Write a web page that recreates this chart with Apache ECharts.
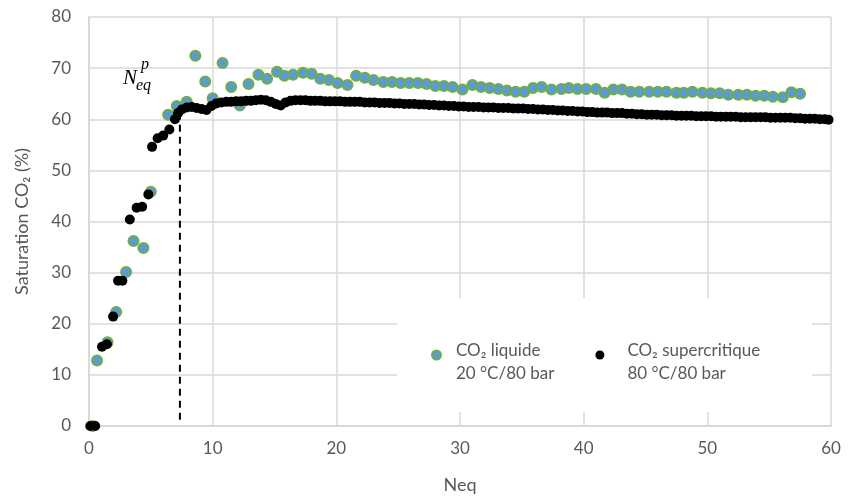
<!DOCTYPE html>
<html>
<head>
<meta charset="utf-8">
<script src="https://cdn.jsdelivr.net/npm/echarts@6/dist/echarts.min.js"></script>
<style>html,body{margin:0;padding:0;background:#fff}#c{width:849px;height:497px}</style>
</head>
<body>
<div id="c"></div>
<script>
// ---- data ----
const xTicks = [0, 10, 20, 30, 40, 50, 60];
const yTicks = [0, 10, 20, 30, 40, 50, 60, 70, 80];

const liquidName = 'CO₂ liquide\n20 °C/80 bar';
const liquidN = [0.3,0.65,1.5,2.2,3.0,3.6,4.4,5.0,6.4,7.1,7.9,8.6,9.4,10.0,10.8,11.5,12.2,12.9,13.7,14.4,15.2,15.8,16.5,17.3,18.0,18.7,19.4,20.1,20.9,21.6,22.3,23.0,23.8,24.5,25.2,25.9,26.6,27.3,28.0,28.7,29.4,30.2,31.0,31.7,32.4,33.1,33.8,34.5,35.2,35.9,36.6,37.4,38.2,38.8,39.5,40.2,41.0,41.7,42.4,43.1,43.8,44.5,45.3,46.0,46.7,47.5,48.1,48.8,49.6,50.3,51.0,51.7,52.5,53.2,53.9,54.6,55.3,56.1,56.8,57.5];
const liquidSat = [0,12.8,16.4,22.3,30.1,36.2,34.8,45.8,60.9,62.6,63.4,72.4,67.4,64.1,71.0,66.3,62.7,66.9,68.7,67.9,69.3,68.5,68.7,69.1,68.9,67.9,67.7,67.1,66.7,68.5,68.1,67.7,67.3,67.3,67.1,67.1,67.1,66.9,66.5,66.5,66.3,65.8,66.7,66.3,66.1,65.9,65.6,65.4,65.4,66.1,66.3,65.8,65.9,66.1,65.9,65.9,65.9,65.2,65.8,65.8,65.4,65.4,65.4,65.4,65.4,65.2,65.2,65.4,65.2,65.1,65.1,64.8,64.8,64.8,64.6,64.6,64.4,64.3,65.3,65.0];

const superName = 'CO₂ supercritique\n80 °C/80 bar';
const superN = [0.1,0.5,1.05,1.45,1.95,2.35,2.7,3.3,3.85,4.3,4.8,5.1,5.55,6.0,6.5,6.95,7.2,7.5,7.9,8.3,8.7,9.1,9.5,9.9,10.3,10.7,11.1,11.5,11.9,12.3,12.7,13.1,13.5,13.9,14.3,14.7,15.1,15.5,15.9,16.3,16.7,17.1,17.5,17.9,18.3,18.7,19.1,19.5,19.9,20.3,20.7,21.1,21.5,21.9,22.3,22.7,23.1,23.5,23.9,24.3,24.7,25.1,25.5,25.9,26.3,26.7,27.1,27.5,27.9,28.3,28.7,29.1,29.5,29.9,30.3,30.7,31.1,31.5,31.9,32.3,32.7,33.1,33.5,33.9,34.3,34.7,35.1,35.5,35.9,36.3,36.7,37.1,37.5,37.9,38.3,38.7,39.1,39.5,39.9,40.3,40.7,41.1,41.5,41.9,42.3,42.7,43.1,43.5,43.9,44.3,44.7,45.1,45.5,45.9,46.3,46.7,47.1,47.5,47.9,48.3,48.7,49.1,49.5,49.9,50.3,50.7,51.1,51.5,51.9,52.3,52.7,53.1,53.5,53.9,54.3,54.7,55.1,55.5,55.9,56.3,56.7,57.1,57.5,57.9,58.3,58.7,59.1,59.5,59.8];
const superSat = [0,0,15.5,16.0,21.4,28.4,28.4,40.4,42.7,42.9,45.3,54.6,56.3,56.8,58.0,60.0,61.2,61.9,62.3,62.4,62.2,62.0,61.8,62.6,63.1,63.3,63.4,63.4,63.5,63.5,63.6,63.6,63.7,63.8,63.7,63.4,63.0,62.7,63.3,63.6,63.7,63.7,63.7,63.6,63.6,63.6,63.5,63.5,63.5,63.5,63.4,63.4,63.4,63.4,63.3,63.3,63.3,63.2,63.2,63.2,63.1,63.1,63.0,63.0,63.0,62.9,62.9,62.8,62.8,62.7,62.7,62.6,62.6,62.5,62.5,62.4,62.4,62.4,62.3,62.3,62.3,62.2,62.2,62.2,62.1,62.1,62.1,62.0,62.0,61.9,61.9,61.8,61.8,61.7,61.7,61.6,61.6,61.5,61.5,61.4,61.4,61.3,61.3,61.3,61.2,61.2,61.2,61.1,61.1,61.0,61.0,60.9,60.9,60.9,60.8,60.8,60.8,60.7,60.7,60.7,60.7,60.6,60.6,60.6,60.6,60.5,60.5,60.5,60.5,60.5,60.4,60.4,60.4,60.4,60.4,60.4,60.3,60.3,60.3,60.3,60.3,60.2,60.2,60.1,60.1,60.1,60.0,60.0,59.9];

// equilibrium marker (dashed vertical line)
const neqP = 7.35;
const neqPLine = [1.2, 61.3];

// ---- chart ----
const chart = echarts.init(document.getElementById('c'), null, {renderer: 'canvas'});
const grey = '#595959';
const gridGrey = '#d9d9d9';
const font = 'Lato';

const zip = (a, b) => a.map((v, i) => [v, b[i]]);

chart.setOption({
  animation: false,
  backgroundColor: '#fff',
  textStyle: {fontFamily: font},
  grid: {left: 89, right: 18, top: 17, bottom: 71, containLabel: false, outerBoundsMode: 'none'},
  xAxis: {
    type: 'value', min: xTicks[0], max: xTicks[xTicks.length - 1], interval: 10,
    name: 'Neq', nameLocation: 'middle', nameGap: 50,
    nameTextStyle: {color: grey, fontSize: 18, fontFamily: font},
    axisLine: {show: true, lineStyle: {color: gridGrey, width: 2}},
    axisTick: {show: false},
    axisLabel: {color: grey, fontSize: 17, fontFamily: font, margin: 14},
    splitLine: {show: true, lineStyle: {color: gridGrey, width: 1.5}}
  },
  yAxis: {
    type: 'value', min: yTicks[0], max: yTicks[yTicks.length - 1], interval: 10,
    name: 'Saturation CO₂ (%)', nameLocation: 'middle', nameGap: 58, nameRotate: 90,
    nameTextStyle: {color: grey, fontSize: 18, fontFamily: font},
    axisLine: {show: true, lineStyle: {color: gridGrey, width: 2}},
    axisTick: {show: false},
    axisLabel: {color: grey, fontSize: 17, fontFamily: font, margin: 18},
    splitLine: {show: true, lineStyle: {color: gridGrey, width: 1.5}}
  },
  legend: {
    left: 426, top: 322, itemGap: 41, itemWidth: 9, itemHeight: 9,
    icon: 'circle',
    z: 10,
    data: [
      {name: liquidName, textStyle: {padding: [0, 0, 0, 10]}},
      {name: superName, textStyle: {padding: [0, 0, 0, 18]}}
    ],
    formatter: function (name) {
      const lines = name.split('\n');
      return '{sp| }\n{t|' + lines[0] + '}\n{t|' + lines[1] + '}';
    },
    textStyle: {
      color: grey, fontSize: 17, fontFamily: font,
      rich: {
        sp: {fontSize: 10, lineHeight: 14},
        t: {color: grey, fontSize: 17, fontFamily: font, lineHeight: 23}
      }
    }
  },
  graphic: [
    {type: 'rect', z: 5, shape: {x: 397, y: 298, width: 415, height: 114}, style: {fill: '#fff'}},
    {type: 'text', z: 6, left: 123, top: 68, style: {text: 'N', font: 'italic 21px "Liberation Serif"', fill: '#000'}},
    {type: 'text', z: 6, left: 141, top: 57, style: {text: 'p', font: 'italic 16px "Liberation Serif"', fill: '#000'}},
    {type: 'text', z: 6, left: 136, top: 78, style: {text: 'eq', font: 'italic 16px "Liberation Serif"', fill: '#000'}}
  ],
  series: [
    {
      name: liquidName, type: 'scatter', data: zip(liquidN, liquidSat),
      symbolSize: 10, z: 3,
      itemStyle: {color: '#5b9bd5', borderColor: '#70ad47', borderWidth: 2, opacity: 1}
    },
    {
      name: superName, type: 'scatter', data: zip(superN, superSat),
      symbolSize: 10, z: 4,
      itemStyle: {color: '#000', opacity: 1}
    },
    {
      name: 'neq', type: 'line', data: [[neqP, neqPLine[0]], [neqP, neqPLine[1]]],
      showSymbol: false, symbol: 'none', z: 2, silent: true,
      lineStyle: {color: '#000', width: 2, type: [7, 5]}
    }
  ]
});
</script>
</body>
</html>
